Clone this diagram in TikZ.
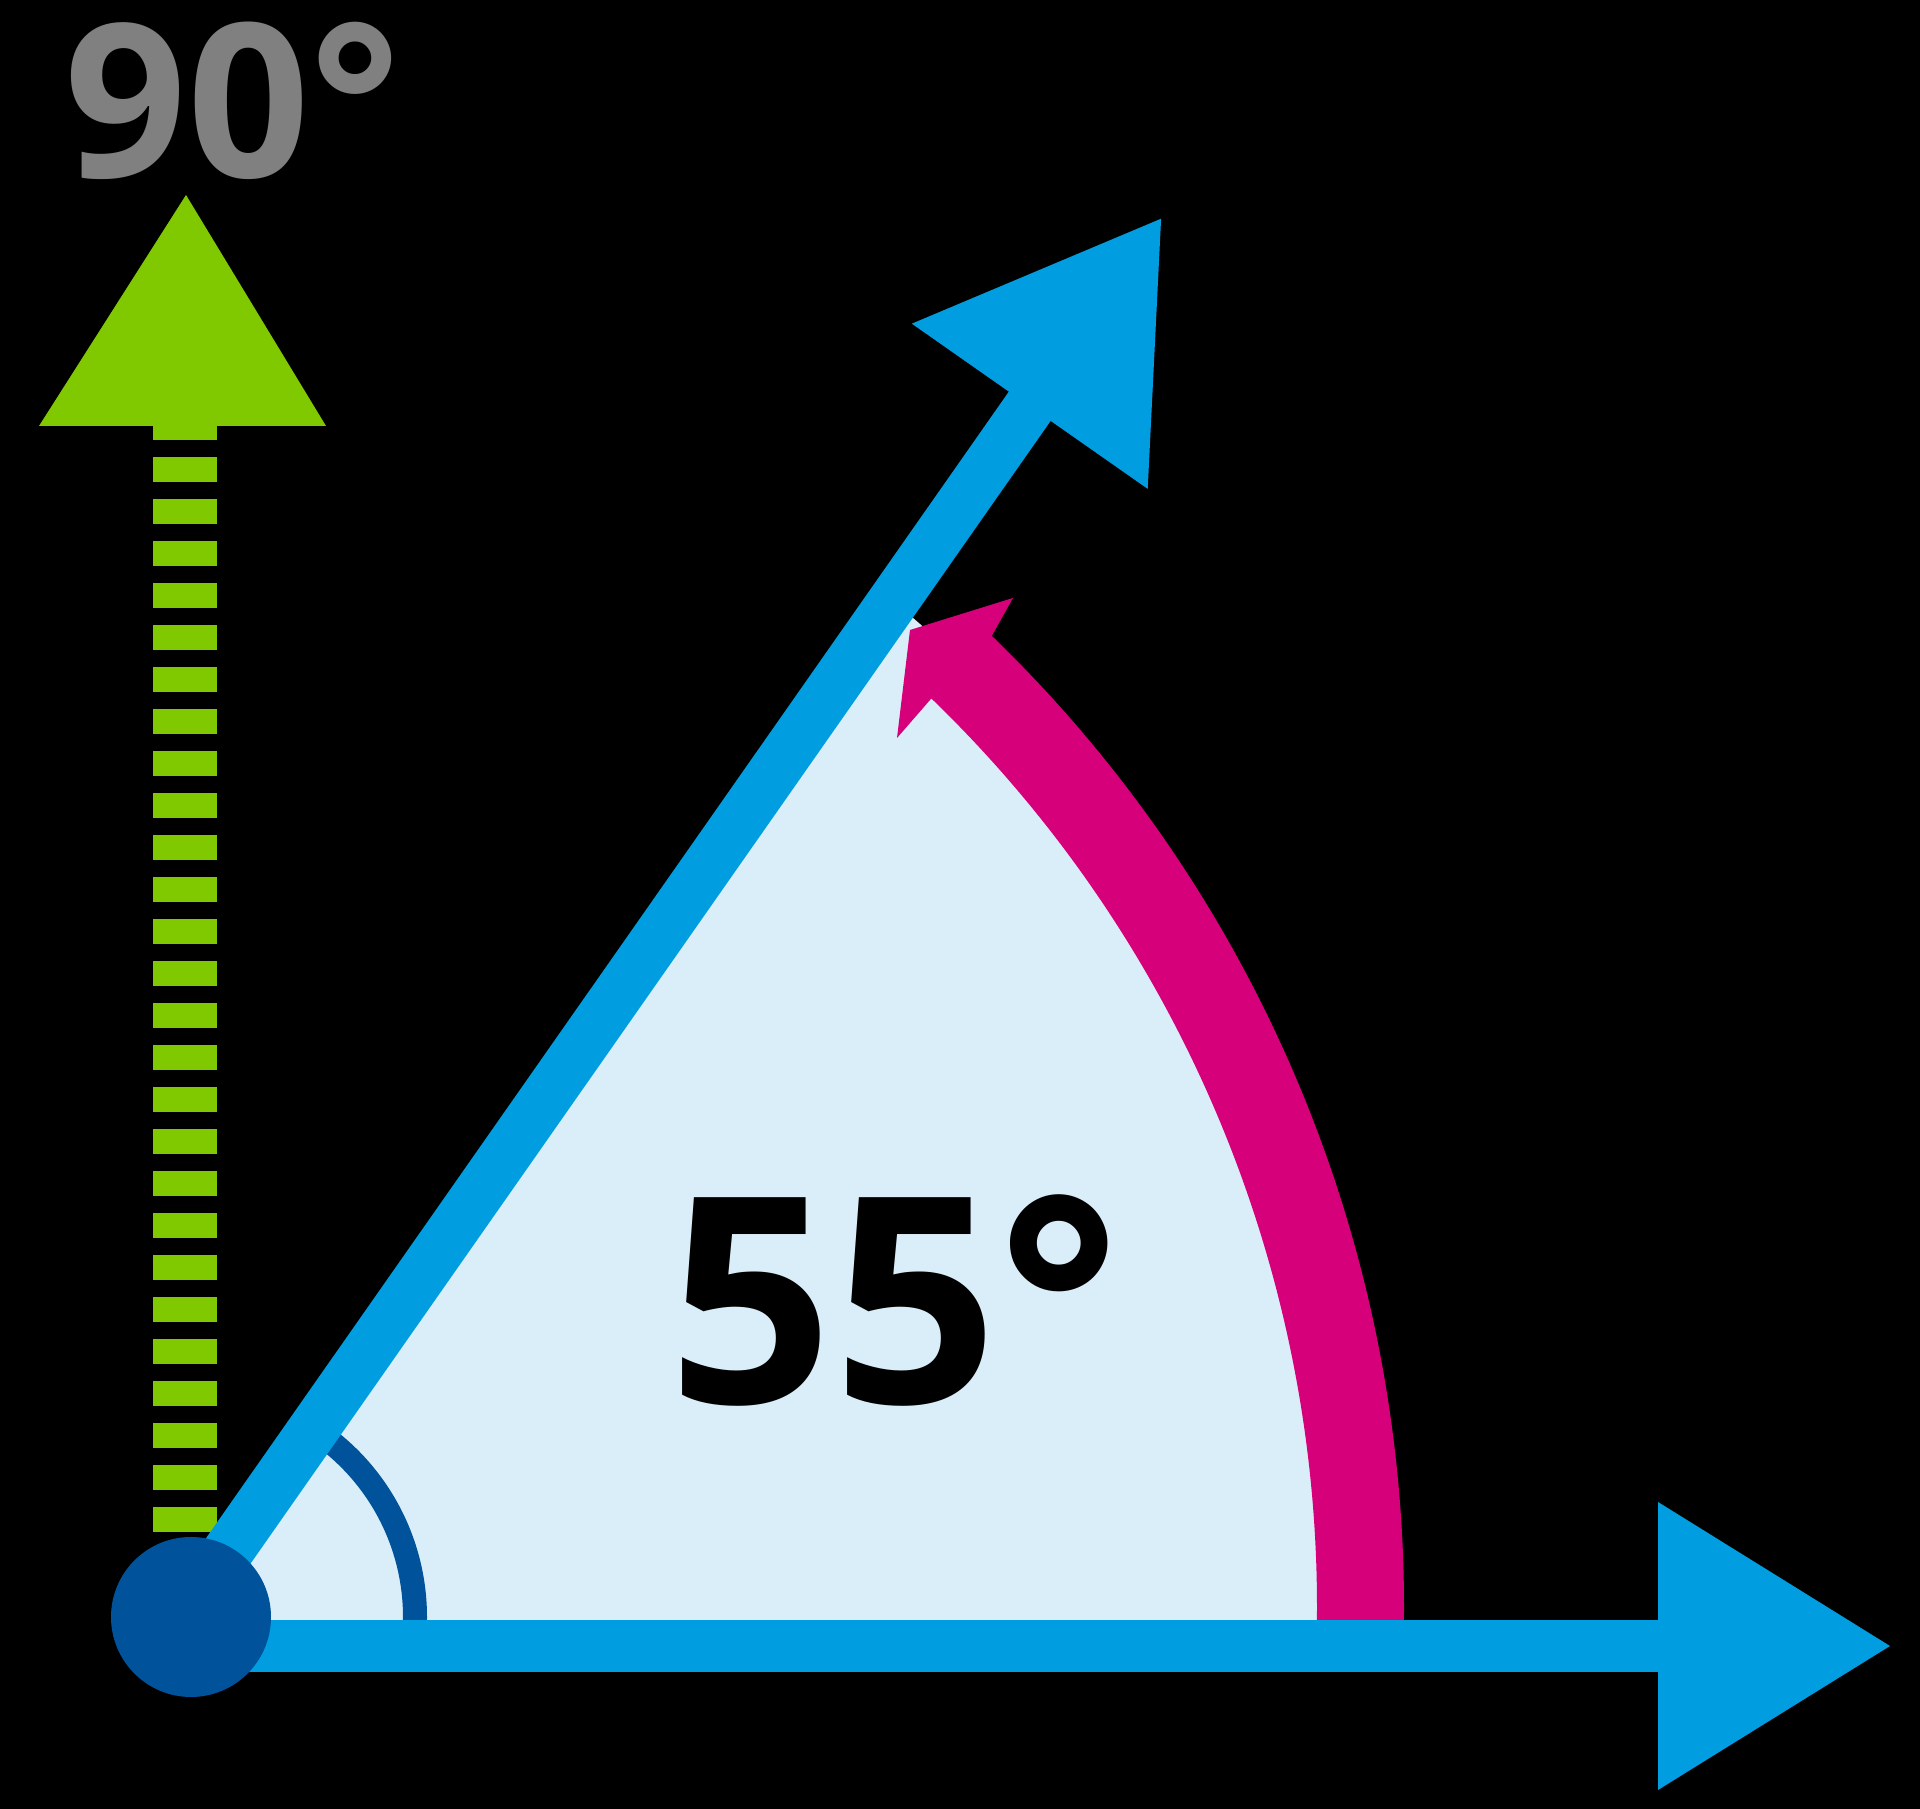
\documentclass[tikz,border=0pt]{standalone}
\usepackage{fontspec}
\newfontfamily\labelfont{Open Sans}
\usetikzlibrary{calc}
\definecolor{arrowblue}{RGB}{0,158,224}
\definecolor{vertexblue}{RGB}{0,83,155}
\definecolor{sectorfill}{RGB}{218,238,249}
\definecolor{arcpink}{RGB}{214,0,122}
\definecolor{rightgreen}{RGB}{128,201,0}
\definecolor{labelgray}{RGB}{128,128,128}
\tikzset{
  shaft/.style={draw=arrowblue, line width=0.51cm, line cap=butt},
  headfill/.style={fill=arrowblue},
  bigdeg/.style={inner sep=0pt, font=\labelfont\bfseries\fontsize{82pt}{82pt}\selectfont},
  smalldeg/.style={inner sep=0pt, font=\labelfont\bfseries\fontsize{61pt}{61pt}\selectfont, text=labelgray}
}
\begin{document}
\begin{tikzpicture}[x=0.01cm, y=0.01cm]
  % canvas
  \fill[black] (0,0) rectangle (1920,1809);
  \useasboundingbox (0,0) rectangle (1920,1809);

  % key points
  \coordinate (O) at (182,192);      % origin of the 55 degree ray
  \coordinate (V) at (191,192);      % vertex dot centre
  \coordinate (P) at (54,202);       % centre of the pink arc

  % light sector fill
  \begin{scope}
    \clip (O) -- (182,180) -- (2000,180) -- ($(O)+(55:2600)$) -- cycle;
    \fill[sectorfill] (P) circle[radius=1310];
  \end{scope}

  % small angle mark
  \draw[vertexblue, line width=0.24cm] ($(V)+(-1:224)$) arc[start angle=-1, end angle=56, radius=224];

  % pink arc with arrowhead
  \fill[arcpink] ($(P)+(-2:1350)$) arc[start angle=-2, end angle=46, radius=1350]
     -- (1013,1211) -- (910,1179) -- (897,1071)
     -- ($(P)+(46:1263)$) arc[start angle=46, end angle=-2, radius=1263] -- cycle;

  % green dashed 90 degree ray
  \foreach \k in {-1,...,25} {
    \fill[rightgreen] (153,{1352-42*\k}) rectangle (217,{1327-42*\k});
  }
  \fill[rightgreen] (39,1383) -- (326,1383) -- (186,1614) -- cycle;

  % horizontal ray
  \fill[arrowblue] (190,137) rectangle (1665,189);
  \fill[headfill] (1658,307) -- (1890,163) -- (1658,19) -- cycle;

  % 55 degree ray
  \draw[shaft] (O) -- ($(O)+(55:1490)$);
  \fill[headfill] ($(O)+(55:1478)+(-35:144)$) -- ($(O)+(55:1707)$) -- ($(O)+(55:1478)+(145:144)$) -- cycle;

  % vertex dot
  \fill[vertexblue] (V) circle[radius=80];

  % labels
  \node[bigdeg, anchor=base] (lab55) at (895,405) {55°};
  \node[smalldeg, anchor=base] (lab90) at (233,1631) {90°};
\end{tikzpicture}
\end{document}
